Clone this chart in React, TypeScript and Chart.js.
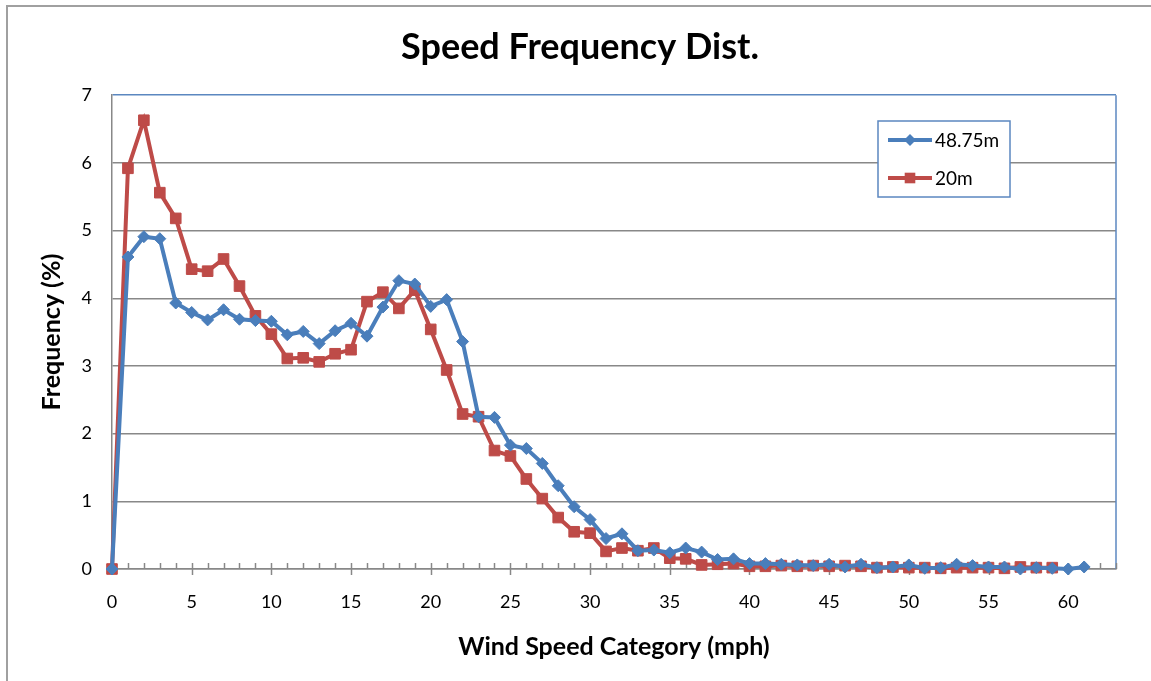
import React, { useEffect, useRef } from 'react';
import { Chart, registerables } from 'chart.js';

Chart.register(...registerables);

// Wind speed categories (mph)
const speedCategories: number[] = Array.from({ length: 62 }, (_, i) => i);

// Frequency (%) at 48.75m, categories 0..61
const freq4875: number[] = [
  0, 4.61, 4.91, 4.88, 3.93, 3.79, 3.68, 3.83, 3.69, 3.67,
  3.66, 3.46, 3.51, 3.33, 3.52, 3.63, 3.44, 3.87, 4.26, 4.21,
  3.88, 3.98, 3.36, 2.25, 2.24, 1.83, 1.78, 1.56, 1.23, 0.92,
  0.73, 0.45, 0.52, 0.27, 0.28, 0.24, 0.31, 0.25, 0.14, 0.15,
  0.08, 0.08, 0.07, 0.06, 0.05, 0.07, 0.03, 0.07, 0.02, 0.03,
  0.06, 0.01, 0.02, 0.07, 0.05, 0.03, 0.03, 0.0, 0.02, 0.01,
  0.0, 0.03,
];

// Frequency (%) at 20m, categories 0..59
const freq20: number[] = [
  0, 5.92, 6.63, 5.56, 5.18, 4.43, 4.40, 4.58, 4.18, 3.74,
  3.47, 3.11, 3.12, 3.06, 3.18, 3.24, 3.95, 4.09, 3.85, 4.12,
  3.54, 2.94, 2.29, 2.25, 1.75, 1.67, 1.33, 1.04, 0.76, 0.55,
  0.53, 0.26, 0.31, 0.27, 0.31, 0.16, 0.15, 0.06, 0.07, 0.08,
  0.04, 0.04, 0.05, 0.04, 0.05, 0.04, 0.05, 0.04, 0.02, 0.03,
  0.02, 0.02, 0.01, 0.02, 0.02, 0.02, 0.01, 0.03, 0.02, 0.02,
];

const seriesNames: string[] = ['48.75m', '20m'];
const xMin = 0;
const xMax = 63;
const xStep = 5;
const yMin = 0;
const yMax = 7;
const yStep = 1;

const BLUE = '#4a7ebb';
const RED = '#be4b48';
const GRID = '#888888';
const BORDER_BLUE = '#5b87c0';
const FONT = 'Lato, "Open Sans", sans-serif';

const decorPlugin = {
  id: 'decor',
  beforeDatasetsDraw(chart: any) {
    const { ctx, chartArea, scales } = chart;
    const xs = scales.x;
    ctx.save();
    // right border of plot area
    ctx.strokeStyle = BORDER_BLUE;
    ctx.lineWidth = 1.5;
    ctx.beginPath();
    ctx.moveTo(chartArea.right, chartArea.top);
    ctx.lineTo(chartArea.right, chartArea.bottom);
    ctx.stroke();
    // x tick marks: minor every 1 (inside), major every 5 (cross)
    ctx.strokeStyle = GRID;
    ctx.lineWidth = 1.5;
    for (let v = xMin; v <= xMax; v++) {
      const px = Math.round(xs.getPixelForValue(v)) + 0.5;
      const major = v % xStep === 0;
      ctx.beginPath();
      ctx.moveTo(px, chartArea.bottom - 6);
      ctx.lineTo(px, chartArea.bottom + (major ? 6 : 0));
      ctx.stroke();
    }
    ctx.restore();
  },
  afterDatasetsDraw(chart: any) {
    const { ctx } = chart;
    ctx.save();
    const bx = 878, by = 121, bw = 132, bh = 76;
    ctx.fillStyle = '#ffffff';
    ctx.fillRect(bx, by, bw, bh);
    ctx.strokeStyle = BORDER_BLUE;
    ctx.lineWidth = 1.5;
    ctx.strokeRect(bx, by, bw, bh);
    const items = [
      { label: seriesNames[0], color: BLUE, style: 'rectRot', r: 6 },
      { label: seriesNames[1], color: RED, style: 'rect', r: 7.5 },
    ];
    items.forEach((it, i) => {
      const y = by + 19 + i * 38;
      ctx.strokeStyle = it.color;
      ctx.lineWidth = 4;
      ctx.beginPath();
      ctx.moveTo(888, y);
      ctx.lineTo(932, y);
      ctx.stroke();
      ctx.fillStyle = it.color;
      if (it.style === 'rect') {
        const s = it.r * Math.SQRT1_2;
        ctx.fillRect(910 - s, y - s, 2 * s, 2 * s);
      } else {
        ctx.beginPath();
        ctx.moveTo(910, y - it.r);
        ctx.lineTo(910 + it.r, y);
        ctx.lineTo(910, y + it.r);
        ctx.lineTo(910 - it.r, y);
        ctx.closePath();
        ctx.fill();
      }
      ctx.fillStyle = '#000';
      ctx.font = `19px ${FONT}`;
      ctx.textBaseline = 'middle';
      ctx.textAlign = 'left';
      ctx.fillText(it.label, 935, y + 1);
    });
    ctx.restore();
  },
};

export default function App() {
  const canvasRef = useRef<HTMLCanvasElement | null>(null);

  useEffect(() => {
    if (!canvasRef.current) return;
    const chart = new Chart(canvasRef.current, {
      type: 'line',
      data: {
        datasets: [
          {
            label: seriesNames[0],
            data: freq4875.map((y, i) => ({ x: speedCategories[i], y })),
            borderColor: BLUE,
            backgroundColor: BLUE,
            borderWidth: 4,
            pointStyle: 'rectRot',
            pointRadius: 6,
            pointBorderWidth: 1,
            pointBackgroundColor: BLUE,
            pointBorderColor: BLUE,
            tension: 0,
            clip: false,
          },
          {
            label: seriesNames[1],
            data: freq20.map((y, i) => ({ x: speedCategories[i], y })),
            borderColor: RED,
            backgroundColor: RED,
            borderWidth: 4,
            pointStyle: 'rect',
            pointRadius: 7.5,
            pointBorderWidth: 1,
            pointBackgroundColor: RED,
            pointBorderColor: RED,
            tension: 0,
            clip: false,
          },
        ],
      },
      options: {
        responsive: false,
        animation: false,
        layout: { padding: { left: 44, right: 35, top: 0, bottom: 0 } },
        plugins: {
          legend: { display: false },
          tooltip: { enabled: false },
          title: {
            display: true,
            text: 'Speed Frequency Dist.',
            color: '#000',
            font: { family: FONT, size: 36, weight: 'bold' },
            padding: { top: 26, bottom: 26 },
          },
        },
        scales: {
          x: {
            type: 'linear',
            min: xMin,
            max: xMax,
            afterBuildTicks: (s: any) => {
              s.ticks = s.ticks.filter((t: any) => t.value % xStep === 0);
            },
            afterFit: (s: any) => {
              s.height = 112;
            },
            ticks: {
              stepSize: xStep,
              color: '#000',
              font: { family: FONT, size: 18 },
              padding: 22,
              maxRotation: 0,
              autoSkip: false,
            },
            grid: { display: false, drawTicks: false },
            border: { display: true, color: GRID, width: 1.5 },
            title: {
              display: true,
              text: 'Wind Speed Category (mph)',
              color: '#000',
              font: { family: FONT, size: 25, weight: 'bold' },
              padding: { top: 0, bottom: 19 },
            },
          },
          y: {
            type: 'linear',
            min: yMin,
            max: yMax,
            afterFit: (s: any) => {
              s.width = 68;
            },
            ticks: {
              stepSize: yStep,
              color: '#000',
              font: { family: FONT, size: 18 },
              padding: 20,
            },
            grid: {
              drawTicks: false,
              lineWidth: 1.5,
              color: (c: any) => (c.tick && c.tick.value === yMax ? BORDER_BLUE : GRID),
            },
            border: { display: true, color: GRID, width: 1.5 },
            title: {
              display: true,
              text: 'Frequency (%)',
              color: '#000',
              font: { family: FONT, size: 25, weight: 'bold', lineHeight: 1 },
              padding: { top: -5, bottom: 0 },
            },
          },
        },
      },
      plugins: [decorPlugin],
    } as any);
    return () => chart.destroy();
  }, []);

  return (
    <div style={{ position: 'absolute', left: 0, top: 0, width: 1151, height: 681, overflow: 'hidden', background: '#fff' }}>
      <div
        style={{
          position: 'absolute',
          left: 6,
          top: 5,
          width: 1151,
          height: 681,
          borderLeft: '2px solid #a0a0a0',
          borderTop: '2px solid #a0a0a0',
        }}
      />
      <canvas
        ref={canvasRef}
        width={1151}
        height={681}
        style={{ position: 'absolute', left: 0, top: 0, width: 1151, height: 681, display: 'block' }}
      />
    </div>
  );
}
